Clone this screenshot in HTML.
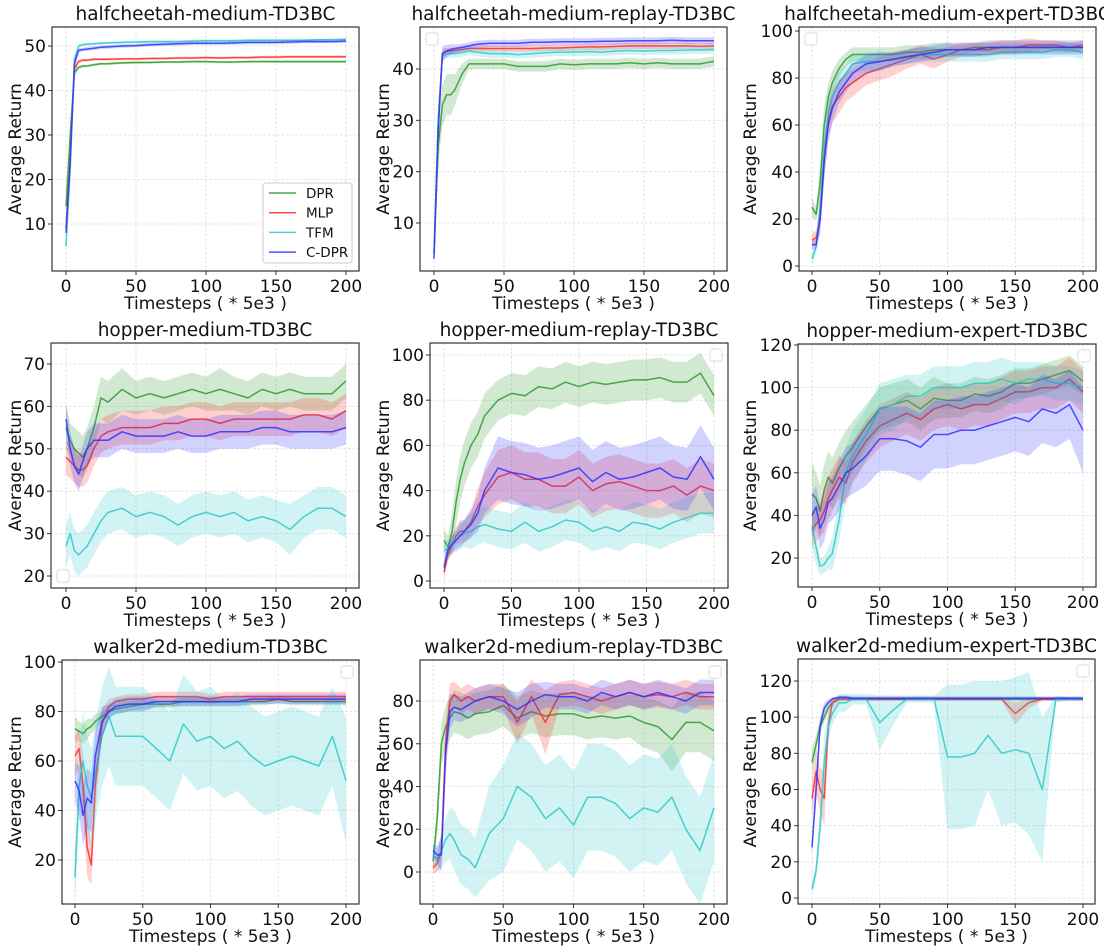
<!DOCTYPE html>
<html><head><meta charset="utf-8"><style>
html,body{margin:0;padding:0;background:#fff;}
svg{display:block;font-family:"DejaVu Sans","Liberation Sans",sans-serif;}
</style></head><body>
<svg id="fig" width="1104" height="950" viewBox="0 0 1104 950" xmlns="http://www.w3.org/2000/svg"></svg>
<script>
// shared x positions (timesteps * 5e3)
const steps=[0,3,6,9,12,15,20,25,30,40,50,60,70,80,90,100,110,120,130,140,150,160,170,180,190,200];
const xTickLabels=[0,50,100,150,200];
const seriesNames=['DPR','MLP','TFM','C-DPR'];

// halfcheetah-medium
const hcMedDPR=[14,30,44,45.2,45.5,45.5,45.8,46,46,46.2,46.3,46.3,46.4,46.4,46.5,46.5,46.4,46.4,46.5,46.5,46.5,46.5,46.5,46.5,46.5,46.5];
const hcMedDPRsd=[1,2,1,.4,.3,.3,.3,.3,.3,.3,.3,.3,.3,.3,.3,.3,.3,.3,.3,.3,.3,.3,.3,.3,.3,.3];
const hcMedMLP=[9,25,45,46.5,46.8,46.8,47,47,47,47.1,47.1,47.2,47.2,47.3,47.3,47.4,47.3,47.4,47.4,47.5,47.5,47.6,47.6,47.6,47.6,47.6];
const hcMedMLPsd=[1,2,1,.4,.3,.3,.3,.3,.3,.3,.3,.3,.3,.3,.3,.3,.3,.3,.3,.3,.3,.3,.3,.3,.3,.3];
const hcMedTFM=[5,22,47,50,50.3,50.4,50.5,50.6,50.7,50.8,50.9,51,51,51,51.1,51.2,51.2,51.2,51.3,51.3,51.3,51.3,51.3,51.4,51.4,51.5];
const hcMedTFMsd=[1,2,1,.4,.3,.3,.3,.3,.3,.3,.3,.3,.3,.3,.3,.3,.3,.3,.3,.3,.3,.3,.3,.3,.3,.3];
const hcMedCDPR=[8,24,46,49,49.2,49.3,49.5,49.7,49.8,50,50.1,50.3,50.4,50.5,50.6,50.6,50.6,50.7,50.8,50.8,50.8,50.9,51,51,51,51.1];
const hcMedCDPRsd=[1,2,1,.5,.4,.4,.4,.4,.4,.4,.4,.4,.4,.4,.4,.4,.4,.4,.4,.4,.4,.4,.4,.4,.4,.4];
// halfcheetah-medium-replay
const hcMrDPR=[4,25,33,35,35,36,39,41,41,41,41,40.5,40.5,40.5,41,40.8,41,41,41,41.2,41,41.2,41,41,41,41.5];
const hcMrDPRsd=[1,4,4,4,4,3,2,1,1,1,1,1,1,1,1,1,1,1,1,1,1,1,1,1,1,1];
const hcMrMLP=[4,30,43,43.5,43.5,43.6,43.8,44,44,44,44,44,44,44.1,44.1,44.2,44.3,44.3,44.4,44.5,44.5,44.5,44.5,44.5,44.4,44.5];
const hcMrMLPsd=[1,3,1,.6,.6,.6,.6,.6,.6,.6,.6,.6,.6,.6,.6,.6,.6,.6,.6,.6,.6,.6,.6,.6,.6,.6];
const hcMrTFM=[4,30,42.5,43,43,43,43.2,43.5,43.3,43,43,42.8,43,43.2,43.3,43.3,43.4,43.3,43.5,43.6,43.5,43.6,43.6,43.7,43.7,43.8];
const hcMrTFMsd=[1,3,1,.8,.8,.8,.8,.8,.8,.8,.8,.8,.8,.8,.8,.8,.8,.8,.8,.8,.8,.8,.8,.8,.8,.8];
const hcMrCDPR=[3,28,43,43.5,43.8,44,44.2,44.5,44.8,45,45,45,45.2,45.2,45.3,45.3,45.3,45.4,45.4,45.5,45.5,45.5,45.6,45.5,45.5,45.5];
const hcMrCDPRsd=[1,3,1.5,1.2,1,.8,.7,.7,.7,.7,.7,.7,.7,.7,.7,.7,.7,.7,.7,.7,.7,.7,.7,.7,.7,.7];
// halfcheetah-medium-expert
const hcMeDPR=[25,22,35,60,72,78,84,88,90,90,90,90,91,91,92,92,92,93,93,93,93,93,93,93,93,93];
const hcMeDPRsd=[4,3,8,8,6,5,4,3,3,3,3,3,3,3,3,3,2,2,2,2,2,2,2,2,2,2];
const hcMeMLP=[11,12,20,45,62,68,72,76,78,82,84,86,88,90,88,90,92,92,92,93,93,94,94,94,93,94];
const hcMeMLPsd=[3,3,6,8,8,7,7,6,6,5,5,5,4,4,4,3,3,3,3,3,3,3,2,2,2,2];
const hcMeTFM=[3,8,25,50,65,72,78,82,86,87,87,88,89,90,90,90,90,90,90,91,91,91,91,92,92,91];
const hcMeTFMsd=[2,3,6,8,6,5,5,4,4,4,4,3,3,3,3,3,3,3,3,3,3,3,3,3,3,3];
const hcMeCDPR=[9,9,20,45,60,67,74,78,82,86,87,88,89,90,91,92,92,92,93,93,93,93,93,93,93,93];
const hcMeCDPRsd=[2,2,6,8,7,6,5,4,4,4,4,3,3,3,3,3,3,3,3,3,3,3,3,3,3,3];
// hopper-medium
const hMedDPR=[55,52,50,49,48,50,55,62,61,64,62,63,62,63,64,63,64,63,62,64,63,64,63,63,63,66];
const hMedDPRsd=[5,4,5,5,5,5,5,5,5,5,4,4,4,4,4,4,5,4,4,4,4,4,4,4,4,4];
const hMedMLP=[48,47,46,45,45,46,50,53,54,55,55,55,56,56,57,57,56,57,57,57,57,57,58,58,57,59];
const hMedMLPsd=[4,4,4,4,4,4,4,4,4,4,4,4,4,4,4,4,4,4,4,4,4,4,4,4,4,4];
const hMedTFM=[27,30,26,25,26,27,30,33,35,36,34,35,34,32,34,35,34,35,33,34,33,31,34,36,36,34];
const hMedTFMsd=[5,5,5,5,5,5,5,5,5,5,5,5,5,5,5,5,5,5,5,5,5,6,5,5,5,5];
const hMedCDPR=[57,50,46,44,47,50,52,52,52,54,53,53,53,54,53,53,54,54,54,55,55,54,54,54,54,55];
const hMedCDPRsd=[4,4,4,4,4,4,4,4,4,4,4,4,4,4,4,4,4,4,4,4,4,4,4,4,4,4];
// hopper-medium-replay
const hMrDPR=[18,15,22,35,45,52,60,65,73,80,83,82,86,85,88,86,88,87,88,89,89,90,88,88,92,82];
const hMrDPRsd=[5,5,8,10,10,10,10,10,10,9,9,9,9,9,9,9,9,9,9,9,9,9,9,9,9,9];
const hMrMLP=[4,12,16,20,22,22,26,33,38,46,48,45,45,42,42,46,40,43,44,42,40,40,42,38,42,40];
const hMrMLPsd=[3,3,4,4,5,5,6,8,10,12,12,12,12,12,12,12,12,12,12,12,12,12,12,12,12,12];
const hMrTFM=[14,14,17,18,20,21,22,24,25,23,22,26,22,24,27,26,22,24,22,26,25,23,26,28,30,30];
const hMrTFMsd=[4,4,4,5,6,6,8,8,8,8,8,9,9,9,9,9,9,9,9,9,9,9,9,9,9,9];
const hMrCDPR=[6,14,16,18,20,22,25,30,40,50,48,47,45,46,48,50,44,48,45,46,48,50,46,45,55,45];
const hMrCDPRsd=[3,3,4,4,5,5,6,8,10,14,14,14,14,14,14,14,14,14,14,14,14,14,14,14,14,14];
// hopper-medium-expert
const hMeDPR=[50,48,42,52,58,55,62,68,72,82,90,92,94,90,95,94,94,97,96,98,102,102,104,106,108,103];
const hMeDPRsd=[15,12,12,12,12,12,12,12,12,10,10,10,10,10,10,8,8,8,8,8,7,7,7,7,7,7];
const hMeMLP=[33,36,38,42,48,52,58,55,65,75,82,85,88,85,90,92,90,92,92,95,98,98,100,100,104,98];
const hMeMLPsd=[8,8,8,10,10,10,10,10,10,10,10,10,10,10,10,10,10,10,10,10,10,10,10,10,10,10];
const hMeTFM=[35,25,16,17,20,22,38,60,68,78,90,92,96,96,100,100,100,102,102,104,102,104,104,102,102,100];
const hMeTFMsd=[10,8,4,4,5,8,10,12,12,12,12,12,10,10,10,10,10,10,10,10,10,8,8,8,8,8];
const hMeCDPR=[40,44,34,38,46,48,54,60,62,68,76,76,75,72,78,78,80,80,82,84,86,84,90,88,92,80];
const hMeCDPRsd=[10,10,10,10,10,10,12,12,12,14,15,15,16,16,16,16,16,16,16,16,16,16,16,16,16,20];
// walker2d-medium
const wMedDPR=[73,72,71,73,74,76,78,80,81,82,83,83,83,84,84,84,84,84,84,84,85,84,84,84,84,84];
const wMedDPRsd=[5,4,4,4,3,3,2,2,2,2,2,1.5,1.5,1.5,1.5,1.5,1.5,1.5,1.5,1.5,1.5,1.5,1.5,1.5,1.5,1.5];
const wMedMLP=[62,65,50,25,18,50,75,82,84,85,85,86,86,86,86,85,86,86,86,86,86,86,86,86,86,86];
const wMedMLPsd=[8,8,12,12,8,10,6,3,2,2,2,2,2,2,2,2,2,2,2,2,2,2,2,2,2,2];
const wMedTFM=[13,50,60,50,45,55,70,78,70,70,70,65,60,75,68,70,65,68,62,58,60,62,60,58,70,52];
const wMedTFMsd=[10,15,20,20,20,20,20,20,20,20,20,20,20,20,20,20,20,20,20,20,20,20,20,20,20,25];
const wMedCDPR=[52,48,38,45,43,62,76,80,82,83,83,84,84,84,84,84,84,84,85,85,85,85,85,85,85,85];
const wMedCDPRsd=[8,10,12,12,12,10,6,3,3,3,3,2,2,2,2,2,2,2,2,2,2,2,2,2,2,2];
// walker2d-medium-replay
const wMrDPR=[5,25,60,68,72,75,74,72,74,75,78,72,75,73,74,74,72,73,72,73,70,68,62,70,70,66];
const wMrDPRsd=[3,8,10,10,10,10,10,10,10,10,10,10,10,10,10,10,10,10,10,10,12,12,15,14,14,14];
const wMrMLP=[2,4,10,60,80,83,80,82,80,82,82,70,82,70,83,84,82,80,82,84,82,83,82,84,82,82];
const wMrMLPsd=[3,4,8,10,8,6,6,6,6,6,6,10,8,15,6,6,6,6,6,6,6,6,6,6,6,6];
const wMrTFM=[8,6,10,15,18,15,8,6,2,18,25,40,35,25,30,22,35,35,32,25,30,28,35,20,10,30];
const wMrTFMsd=[4,5,8,10,12,14,14,14,14,22,25,25,25,25,25,25,25,25,25,25,25,25,25,25,25,25];
const wMrCDPR=[10,8,8,55,75,77,76,78,80,82,80,76,80,83,82,82,80,84,82,84,82,84,82,80,84,84];
const wMrCDPRsd=[3,4,8,10,8,6,6,6,6,6,6,8,8,6,6,6,6,6,6,6,6,6,6,6,6,6];
// walker2d-medium-expert
const wMeDPR=[75,85,95,100,105,108,110,110,110,110,110,110,110,110,110,110,110,110,110,110,110,110,110,110,110,110];
const wMeDPRsd=[8,5,4,3,2,1,1,1,1,1,1,1,1,1,1,1,1,1,1,1,1,1,1,1,1,1];
const wMeMLP=[55,70,60,55,95,108,110,110,110,110,110,110,110,110,110,110,110,110,110,110,102,108,110,110,110,110];
const wMeMLPsd=[10,12,12,15,8,3,1,1,1,1,1,1,1,1,1,1,1,1,1,1,6,3,1,1,1,1];
const wMeTFM=[5,15,40,75,95,102,108,108,110,110,97,104,110,110,110,78,78,80,90,80,82,80,60,110,110,110];
const wMeTFMsd=[3,5,10,15,8,6,5,5,3,3,15,8,2,2,2,40,40,40,30,40,40,45,40,2,1,1];
const wMeCDPR=[28,60,95,105,108,110,111,111,110.5,110.5,110.5,110.5,110.5,110.5,110.5,110.5,110.5,110.5,110.5,110.5,110.5,110.5,110.5,110.5,110.5,110.5];
const wMeCDPRsd=[5,8,5,3,2,1,1,1,1,1,1,1,1,1,1,1,1,1,1,1,1,1,1,1,1,1];

const colors=['#2e9a2e','#ff2a2a','#2ec8c8','#3030ff'];
const NS='http://www.w3.org/2000/svg';
const svg=document.getElementById('fig');
function mk(tag,attrs,parent){const e=document.createElementNS(NS,tag);for(const k in attrs)e.setAttribute(k,attrs[k]);(parent||svg).appendChild(e);return e;}

const panels=[
 {id:'hc-med',title:'halfcheetah-medium-TD3BC',L:52,R:359,T:27,B:271,x0:66,x1:346,va:10,pa:224,vb:50,pb:46,yt:[10,20,30,40,50],d:[[hcMedDPR,hcMedDPRsd],[hcMedMLP,hcMedMLPsd],[hcMedTFM,hcMedTFMsd],[hcMedCDPR,hcMedCDPRsd]],leg:'full',ylx:16},
 {id:'hc-mr',title:'halfcheetah-medium-replay-TD3BC',L:420,R:727,T:27,B:271,x0:434,x1:714,va:10,pa:223,vb:40,pb:69,yt:[10,20,30,40],d:[[hcMrDPR,hcMrDPRsd],[hcMrMLP,hcMrMLPsd],[hcMrTFM,hcMrTFMsd],[hcMrCDPR,hcMrCDPRsd]],leg:'tl',ylx:384},
 {id:'hc-me',title:'halfcheetah-medium-expert-TD3BC',L:799,R:1096,T:27,B:271,x0:812,x1:1083,va:0,pa:266,vb:100,pb:31,yt:[0,20,40,60,80,100],d:[[hcMeDPR,hcMeDPRsd],[hcMeMLP,hcMeMLPsd],[hcMeTFM,hcMeTFMsd],[hcMeCDPR,hcMeCDPRsd]],leg:'tl',ylx:751},
 {id:'h-med',title:'hopper-medium-TD3BC',L:51,R:359,T:343,B:588,x0:66,x1:346,va:20,pa:576,vb:70,pb:364,yt:[20,30,40,50,60,70],d:[[hMedDPR,hMedDPRsd],[hMedMLP,hMedMLPsd],[hMedTFM,hMedTFMsd],[hMedCDPR,hMedCDPRsd]],leg:'bl',ylx:16},
 {id:'h-mr',title:'hopper-medium-replay-TD3BC',L:430,R:728,T:343,B:588,x0:444,x1:714,va:0,pa:581,vb:100,pb:355,yt:[0,20,40,60,80,100],d:[[hMrDPR,hMrDPRsd],[hMrMLP,hMrMLPsd],[hMrTFM,hMrTFMsd],[hMrCDPR,hMrCDPRsd]],leg:'tr',ylx:384},
 {id:'h-me',title:'hopper-medium-expert-TD3BC',L:798,R:1096,T:344,B:587,x0:812,x1:1083,va:20,pa:558,vb:120,pb:345,yt:[20,40,60,80,100,120],d:[[hMeDPR,hMeDPRsd],[hMeMLP,hMeMLPsd],[hMeTFM,hMeTFMsd],[hMeCDPR,hMeCDPRsd]],leg:'tr',ylx:751},
 {id:'w-med',title:'walker2d-medium-TD3BC',L:62,R:359,T:660,B:904,x0:75,x1:346,va:20,pa:860,vb:100,pb:662,yt:[20,40,60,80,100],d:[[wMedDPR,wMedDPRsd],[wMedMLP,wMedMLPsd],[wMedTFM,wMedTFMsd],[wMedCDPR,wMedCDPRsd]],leg:'tr',ylx:16},
 {id:'w-mr',title:'walker2d-medium-replay-TD3BC',L:420,R:727,T:660,B:904,x0:433,x1:714,va:0,pa:872,vb:80,pb:701,yt:[0,20,40,60,80],d:[[wMrDPR,wMrDPRsd],[wMrMLP,wMrMLPsd],[wMrTFM,wMrTFMsd],[wMrCDPR,wMrCDPRsd]],leg:'tr',ylx:384},
 {id:'w-me',title:'walker2d-medium-expert-TD3BC',L:798,R:1095,T:659,B:904,x0:812,x1:1083,va:0,pa:898,vb:120,pb:681,yt:[0,20,40,60,80,100,120],d:[[wMeDPR,wMeDPRsd],[wMeMLP,wMeMLPsd],[wMeTFM,wMeTFMsd],[wMeCDPR,wMeCDPRsd]],leg:'tr',ylx:751}
];

panels.forEach((p,pi)=>{
  const g=mk('g',{});
  
  
  const sx=t=>p.x0+(t/200)*(p.x1-p.x0);
  const sy=v=>p.pa+(v-p.va)*(p.pb-p.pa)/(p.vb-p.va);
  const cp=mk('clipPath',{id:'clip'+pi},g);
  mk('rect',{x:p.L,y:p.T,width:p.R-p.L,height:p.B-p.T},cp);
  xTickLabels.forEach(t=>{const l=mk('line',{x1:sx(t),x2:sx(t),y1:p.T,y2:p.B,stroke:'#dadada','stroke-width':0.8,'stroke-dasharray':'2.5,2'},g);
    
    });
  p.yt.forEach(v=>{const l=mk('line',{x1:p.L,x2:p.R,y1:sy(v),y2:sy(v),stroke:'#dadada','stroke-width':0.8,'stroke-dasharray':'2.5,2'},g);
    
    });
  const dg=mk('g',{'clip-path':'url(#clip'+pi+')'},g);
  p.d.forEach((s,si)=>{
    const m=s[0],sd=s[1];
    let up=steps.map((t,i)=>sx(t).toFixed(1)+','+sy(m[i]+sd[i]).toFixed(1));
    let dn=steps.map((t,i)=>sx(t).toFixed(1)+','+sy(m[i]-sd[i]).toFixed(1)).reverse();
    const band=mk('polygon',{points:up.concat(dn).join(' '),fill:colors[si],'fill-opacity':0.22,stroke:'none'},dg);
    
    
    const line=mk('polyline',{points:steps.map((t,i)=>sx(t).toFixed(1)+','+sy(m[i]).toFixed(1)).join(' '),fill:'none',stroke:colors[si],'stroke-width':1.5,'stroke-opacity':0.85,'stroke-linejoin':'round'},dg);
    
    
  });
  const fr=mk('rect',{x:p.L,y:p.T,width:p.R-p.L,height:p.B-p.T,fill:'none',stroke:'#333','stroke-width':1.2},g);
  
  
  xTickLabels.forEach(t=>{mk('line',{x1:sx(t),x2:sx(t),y1:p.B,y2:p.B+4,stroke:'#333'},g);
    const tx=mk('text',{x:sx(t),y:p.B+21,'text-anchor':'middle','font-size':17,fill:'#111'},g);
    tx.textContent=t;
    
    });
  p.yt.forEach(v=>{mk('line',{x1:p.L-4,x2:p.L,y1:sy(v),y2:sy(v),stroke:'#333'},g);
    const tx=mk('text',{x:p.L-6,y:sy(v)+6,'text-anchor':'end','font-size':17,fill:'#111'},g);
    tx.textContent=v;
    
    });
  const ti=mk('text',{x:(p.L+p.R)/2,y:p.T-7,'text-anchor':'middle','font-size':18.5,fill:'#111'},g);
  ti.textContent=p.title;
  
  
  const xl=mk('text',{x:(p.L+p.R)/2,y:p.B+38,'text-anchor':'middle','font-size':17,fill:'#111'},g);
  xl.textContent='Timesteps ( * 5e3 )';
  
  
  const yc=(p.T+p.B)/2;
  const yl=mk('text',{x:p.ylx,y:yc,'text-anchor':'middle','font-size':17,fill:'#111',transform:'rotate(-90 '+p.ylx+' '+yc+')','dominant-baseline':'middle'},g);
  yl.textContent='Average Return';
  
  
  if(p.leg==='full'){
    const lg=mk('g',{},g);
    
    
    mk('rect',{x:263,y:183,width:89,height:80,rx:3,fill:'#fff','fill-opacity':0.85,stroke:'#ccc'},lg);
    seriesNames.forEach((n,i)=>{
      const yy=193+i*19.7;
      mk('line',{x1:269,x2:296,y1:yy,y2:yy,stroke:colors[i],'stroke-width':1.5,'stroke-opacity':0.85},lg);
      const tx=mk('text',{x:306,y:yy+5,'font-size':13.5,fill:'#111'},lg);
      tx.textContent=n;
      
      
    });
  } else {
    let bx,by;
    if(p.leg==='tl'){bx=p.L+6;by=p.T+6;} else if(p.leg==='bl'){bx=p.L+6;by=p.B-18;} else {bx=p.R-18;by=p.T+6;}
    const lb=mk('rect',{x:bx,y:by,width:12,height:12,rx:2,fill:'#fff',stroke:'#ddd'},g);
    
    
  }
});
</script>
</body></html>
